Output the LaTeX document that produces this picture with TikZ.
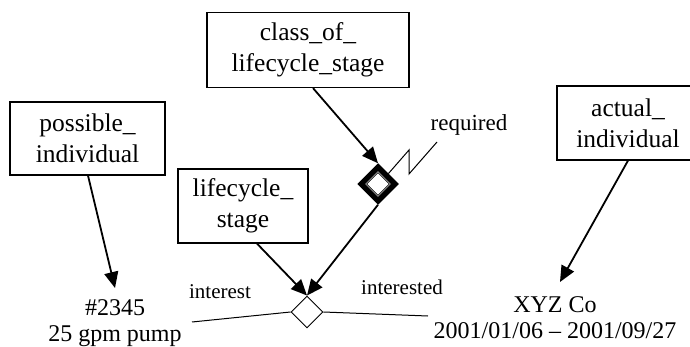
\documentclass[tikz,border=0pt]{standalone}
\usepackage{fontspec}
\setmainfont{Liberation Serif}
\usetikzlibrary{arrows.meta,shapes.geometric}

\tikzset{
  entity/.style={draw, line width=1.2pt, inner sep=0pt, align=center,
    font=\fontsize{25.5}{31}\selectfont},
  plain/.style={inner sep=0pt, align=center, font=\fontsize{24}{26}\selectfont},
  rolelabel/.style={inner sep=0pt, font=\fontsize{21}{24}\selectfont},
  link/.style={line width=1.8pt, -{Triangle[length=16pt,width=14pt]}},
  leg/.style={line width=1pt},
}

\begin{document}
\begin{tikzpicture}[x=1pt, y=-1pt]
  \useasboundingbox (0,0) rectangle (690,347);
  \clip (0,0) rectangle (690,347);

  % entity boxes
  \node[entity, minimum width=202pt, minimum height=75pt] (cls) at (308,50)
    {class\_of\_\\lifecycle\_stage};
  \node[entity, minimum width=155pt, minimum height=73pt] (poss) at (87.5,138.5)
    {possible\_\\individual};
  \node[entity, minimum width=130pt, minimum height=74pt] (lcs) at (243,206)
    {lifecycle\_\\stage};
  \node[entity, minimum width=142pt, minimum height=74pt] (act) at (628,123)
    {actual\_\\individual};

  % thick "required" relationship marker (double outline)
  \node[diamond, draw, line width=5.5pt, minimum width=36pt, minimum height=36pt,
        inner sep=0pt] (req) at (378,184) {};
  \node[diamond, draw, line width=0.7pt, minimum width=23pt, minimum height=23pt,
        inner sep=0pt] (reqin) at (378,184) {};

  % plain relationship marker
  \node[diamond, draw, line width=0.9pt, fill=white, minimum width=32pt,
        minimum height=32pt, inner sep=0pt] (rel) at (307,312) {};

  % instance texts
  \node[plain] (pnum) at (115,323) {\#2345\\25 gpm pump};
  \node[plain] (xyz) at (555,318) {XYZ Co\\2001/01/06 – 2001/09/27};

  % labels
  \node[rolelabel] (linterest) at (220,292) {interest};
  \node[rolelabel] (linterested) at (402,287) {interested};
  \node[inner sep=0pt, font=\fontsize{23}{26}\selectfont] (lreq) at (469,125) {required};

  % free ends of lines
  \coordinate (legL) at (192,322);
  \coordinate (legR) at (428,316);
  \coordinate (zA) at (409,150);
  \coordinate (zB) at (409,174);
  \coordinate (zC) at (437,142);
  \coordinate (possTip) at (115,288);
  \coordinate (actTip) at (560,282);

  % arrows
  \draw[link] (poss.south) ++(0.5,0) -- (possTip);
  \draw[link] (act.south) -- (actTip);
  \draw[link] (cls.south) ++(5,0) -- (req.north);
  \draw[link] (lcs.south) ++(14,0) -- (rel.north);
  \draw[link] (req.south) -- (rel.north);

  % role legs and zigzag
  \draw[leg] (rel.west) -- (legL);
  \draw[leg] (rel.east) -- (legR);
  \draw[line width=1pt] (req.north east) -- (zA) -- (zB) -- (zC);
\end{tikzpicture}
\end{document}
